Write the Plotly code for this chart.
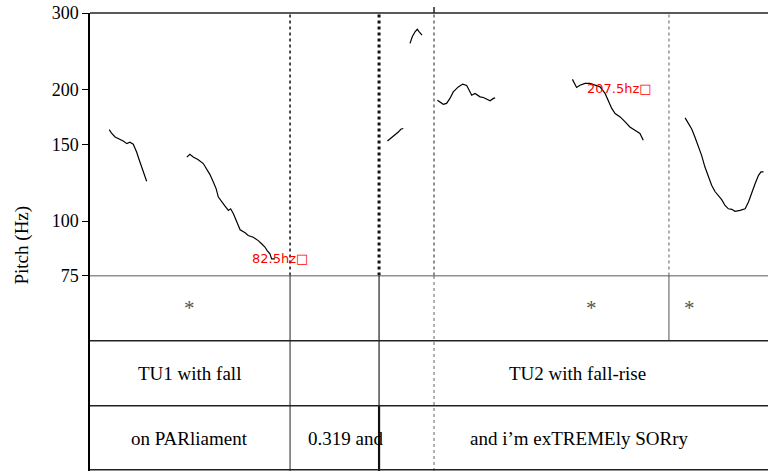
import math
import plotly.graph_objects as go

# pitch contours (time s, pitch Hz)
seg1_t = [0.069, 0.078, 0.090, 0.108, 0.119, 0.132, 0.143, 0.155, 0.167, 0.179, 0.191, 0.203]
seg1_hz = [162.1, 158.8, 155.9, 154.0, 152.6, 150.5, 151.6, 150.0, 144.0, 136.6, 129.6, 123.4]

seg2_t = [0.347, 0.358, 0.370, 0.388, 0.406, 0.418, 0.430, 0.442, 0.452, 0.460, 0.472, 0.484,
          0.496, 0.504, 0.514, 0.526, 0.538, 0.556, 0.567, 0.585, 0.603, 0.615, 0.627, 0.635,
          0.645, 0.651, 0.663]
seg2_hz = [140.2, 142.3, 140.2, 138.3, 135.5, 131.9, 127.8, 122.9, 118.7, 113.5, 110.6, 108.2,
           105.8, 106.7, 104.0, 99.4, 95.5, 94.0, 92.7, 91.8, 90.2, 88.7, 87.2, 85.6,
           84.1, 81.9, 81.9]

seg3_t = [1.066, 1.081, 1.093, 1.105, 1.114, 1.123]
seg3_hz = [152.6, 155.4, 157.4, 160.0, 162.4, 163.0]

seg4_t = [1.147, 1.155, 1.165, 1.173, 1.180, 1.190]
seg4_hz = [255.6, 264.6, 271.7, 275.3, 271.7, 267.0]

seg5_t = [1.245, 1.254, 1.266, 1.278, 1.290, 1.302, 1.320, 1.336, 1.350, 1.359, 1.368, 1.380,
          1.388, 1.398, 1.410, 1.422, 1.434, 1.446, 1.452]
seg5_hz = [189.3, 187.7, 185.3, 186.1, 191.1, 197.8, 203.1, 206.1, 204.6, 199.6, 194.4, 196.2,
           194.4, 192.7, 192.0, 190.7, 188.7, 191.1, 191.6]

seg6_t = [1.729, 1.738, 1.744, 1.756, 1.774, 1.792, 1.810, 1.828, 1.846, 1.858, 1.870, 1.882,
          1.900, 1.918, 1.935, 1.953, 1.971, 1.983]
seg6_hz = [211.3, 206.8, 202.5, 204.9, 206.8, 206.8, 204.9, 203.1, 196.2, 187.7, 181.3, 176.4,
           173.3, 168.8, 164.4, 161.6, 158.8, 153.3]

seg7_t = [2.133, 2.144, 2.157, 2.168, 2.180, 2.192, 2.204, 2.216, 2.228, 2.240, 2.252, 2.264,
          2.276, 2.288, 2.300, 2.312, 2.330, 2.348, 2.360, 2.372, 2.384, 2.396, 2.405, 2.414]
seg7_hz = [172.4, 167.4, 162.4, 155.9, 149.2, 141.5, 133.0, 126.1, 120.8, 116.9, 114.5, 112.0,
           108.6, 106.7, 106.4, 105.3, 105.8, 106.7, 110.6, 116.5, 121.9, 127.3, 129.6, 129.6]

segments = [(seg1_t, seg1_hz), (seg2_t, seg2_hz), (seg3_t, seg3_hz), (seg4_t, seg4_hz),
            (seg5_t, seg5_hz), (seg6_t, seg6_hz), (seg7_t, seg7_hz)]

# boundaries (s)
b_pause_start = 0.717
b_pause_end = 1.036
b_cursor = 1.233
b_star = 2.075
t_end = 2.43

y_ticks = [75, 100, 150, 200, 300]

# tier labels (time, text)
tier1_labels = [(0.358, "*"), (1.796, "*"), (2.147, "*")]
tier2_labels = [(0.358, "TU1 with fall"), (1.746, "TU2 with fall-rise")]
tier3_labels = [(0.358, "on PARliament"), (0.914, "0.319 and"), (1.753, "and i\u2019m exTREMEly SORry")]

red_notes = [(0.681, 82.0, "82.5hz\u25a1"), (1.896, 201.8, "207.5hz\u25a1")]

SERIF = "Liberation Serif"
PITCH_BOTTOM = 0.4267  # share of the plot height used by the tiers

fig = go.Figure()
for t, hz in segments:
    fig.add_trace(go.Scatter(x=t, y=hz, mode="lines", line=dict(color="black", width=1.2),
                             showlegend=False, hoverinfo="skip"))

shapes = []


def vline(x, y0, y1, yref, dash="solid", width=1, color="#222"):
    shapes.append(dict(type="line", xref="x", yref=yref, x0=x, x1=x, y0=y0, y1=y1,
                       line=dict(color=color, width=width, dash=dash)))


def hline(y, yref):
    shapes.append(dict(type="line", xref="paper", yref=yref, x0=0, x1=1, y0=y, y1=y,
                       line=dict(color="#222", width=1.5)))


# dotted lines in the pitch area
vline(b_pause_start, 75, 300, "y", "dot", 1.5, "#111")
vline(b_pause_end, 75, 300, "y", "dot", 3, "#111")
vline(b_cursor, 75, 300, "y", "dot", 1.2, "#444")
vline(b_star, 75, 300, "y", "dot", 1.2, "#777")
# tier boundaries
vline(b_pause_start, 0, 3, "y2", "solid", 1, "#222")
vline(b_pause_end, 1, 3, "y2", "solid", 1.2, "#222")
vline(b_pause_end, 0, 1, "y2", "solid", 2.2, "#111")
vline(b_cursor, 0, 3, "y2", "dot", 1, "#666")
vline(b_star, 2, 3, "y2", "solid", 1, "#555")
# little cursor tick above the frame
shapes.append(dict(type="line", xref="x", yref="paper", x0=b_cursor, x1=b_cursor,
                   y0=1, y1=1 + 6 / 457, line=dict(color="#222", width=1.5)))
# frame
hline(1, "paper")
hline(3, "y2")
hline(2, "y2")
hline(1, "y2")
hline(0.02, "y2")

annotations = []
for t, txt in tier1_labels:
    annotations.append(dict(x=t, y=2.5, xref="x", yref="y2", text=txt, showarrow=False,
                            font=dict(family=SERIF, size=21, color="#555")))
for t, txt in tier2_labels:
    annotations.append(dict(x=t, y=1.5, xref="x", yref="y2", text=txt, showarrow=False,
                            font=dict(family=SERIF, size=19, color="black")))
for t, txt in tier3_labels:
    annotations.append(dict(x=t, y=0.5, xref="x", yref="y2", text=txt, showarrow=False,
                            font=dict(family=SERIF, size=19, color="black")))
for t, hz, txt in red_notes:
    annotations.append(dict(x=t, y=math.log10(hz), xref="x", yref="y", text=txt,
                            showarrow=False,
                            font=dict(family="DejaVu Sans", size=13, color="red")))
annotations.append(dict(x=(22 - 90) / 678, y=1 - (245 - 13) / 457, xref="paper", yref="paper",
                        xanchor="center", yanchor="middle", text="Pitch (Hz)",
                        textangle=-90, showarrow=False,
                        font=dict(family=SERIF, size=19, color="black")))

fig.update_layout(
    width=768, height=481,
    margin=dict(l=90, r=0, t=13, b=0),
    paper_bgcolor="white", plot_bgcolor="white",
    shapes=shapes, annotations=annotations,
    xaxis=dict(range=[0, t_end], visible=False, showgrid=False, zeroline=False),
    yaxis=dict(type="log", range=[math.log10(75), math.log10(300)], domain=[PITCH_BOTTOM, 1],
               tickvals=y_ticks, ticktext=[str(v) for v in y_ticks], ticks="outside",
               ticklen=6, tickcolor="black", showline=True, linecolor="black", linewidth=1.5,
               showgrid=False, zeroline=False,
               tickfont=dict(family=SERIF, size=18, color="black")),
    yaxis2=dict(range=[0, 3], domain=[0, PITCH_BOTTOM], visible=True, showticklabels=False,
                ticks="", showline=True, linecolor="black", linewidth=1.5, showgrid=False,
                zeroline=False),
)

fig.write_html("out.html", config={"displayModeBar": False},
               post_script="document.body.style.margin='0';document.body.style.overflow='hidden';")
